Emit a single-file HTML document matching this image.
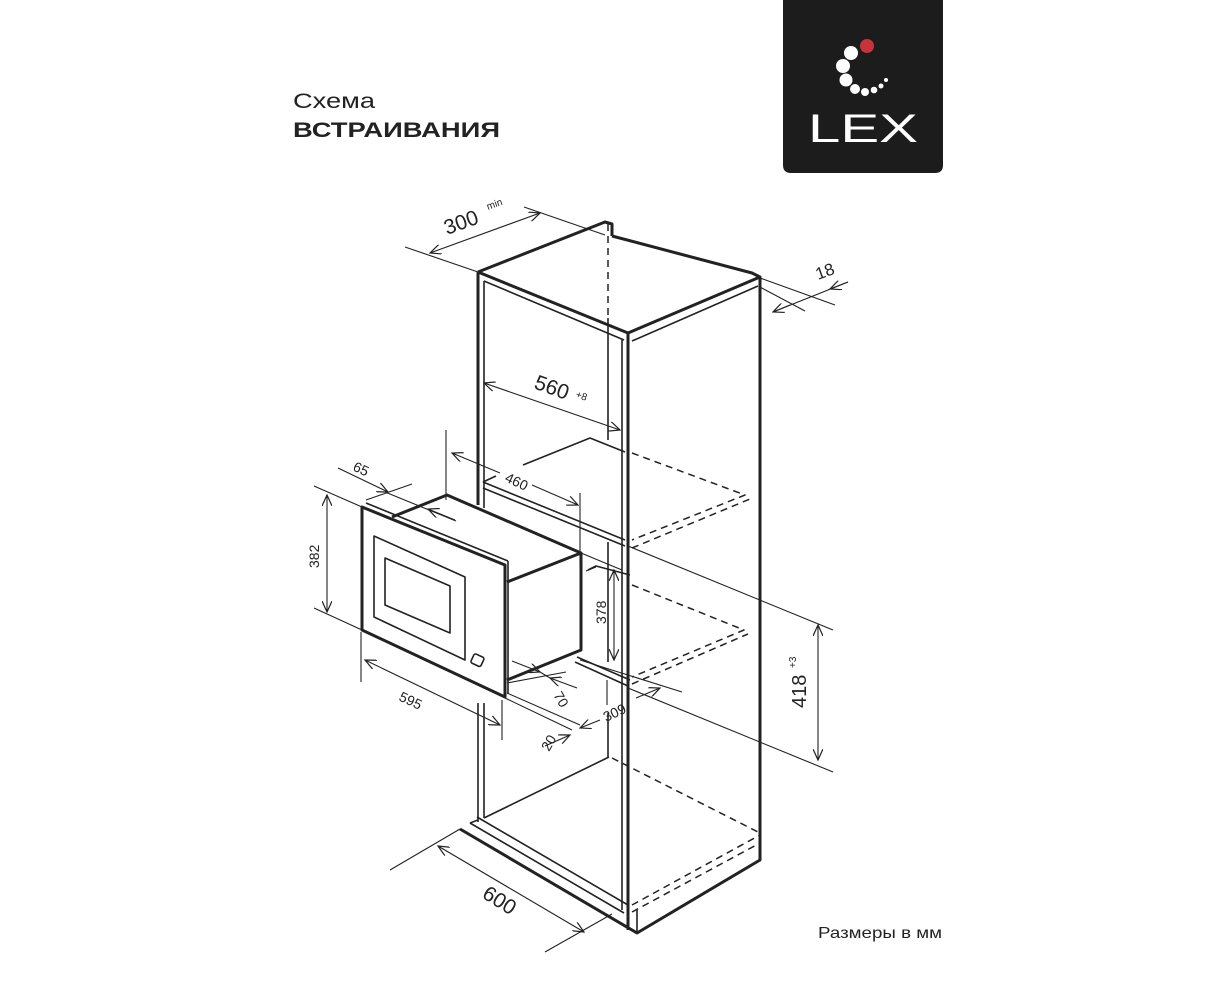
<!DOCTYPE html>
<html><head><meta charset="utf-8"><style>
html,body{margin:0;padding:0;background:#fff;}
svg{display:block}
text{font-family:"Liberation Sans",sans-serif;fill:#222}
</style></head><body>
<svg width="1223" height="1000" viewBox="0 0 1223 1000" xmlns="http://www.w3.org/2000/svg">
<defs>
<marker id="a" markerWidth="12" markerHeight="10" refX="11" refY="5" orient="auto-start-reverse" markerUnits="userSpaceOnUse">
<path d="M0,0 L11,5 L0,10" fill="none" stroke="#222" stroke-width="1.2"/></marker>
</defs>
<!-- Logo -->
<path d="M783,0 H943 V165 Q943,173 935,173 H791 Q783,173 783,165 Z" fill="#1c1c1c"/>
<circle cx="867" cy="46" r="7" fill="#c8323a"/>
<circle cx="851" cy="53" r="7" fill="#fff"/>
<circle cx="843" cy="66" r="7" fill="#fff"/>
<circle cx="846" cy="80" r="6.5" fill="#fff"/>
<circle cx="855" cy="89" r="5" fill="#fff"/>
<circle cx="865" cy="92" r="4" fill="#fff"/>
<circle cx="874" cy="90" r="3.3" fill="#fff"/>
<circle cx="881" cy="86" r="2.5" fill="#fff"/>
<circle cx="886" cy="80" r="2" fill="#fff"/>
<text x="808" y="142" font-size="40" textLength="110" lengthAdjust="spacingAndGlyphs" style="fill:#fff">LEX</text>
<!-- Titles -->
<text x="293" y="108" font-size="21" textLength="82" lengthAdjust="spacingAndGlyphs">Схема</text>
<text x="293" y="137" font-size="21" font-weight="bold" textLength="207" lengthAdjust="spacingAndGlyphs">ВСТРАИВАНИЯ</text>
<text x="818" y="938" font-size="16" textLength="124" lengthAdjust="spacingAndGlyphs">Размеры в мм</text>

<g fill="none" stroke="#222" stroke-linejoin="round">
<!-- Cabinet top -->
<g stroke-width="3">
<path d="M478,272 L605,222 L612,224 L612,236"/>
<path d="M612,236 L752,273 L760,277 L760,860 L637,933 L460,829"/>
<path d="M478,272 L628,333 L760,277"/>
<line x1="478" y1="272" x2="478" y2="505"/>
<line x1="628" y1="333" x2="628" y2="930"/>
</g>
<g stroke-width="1.6">
<line x1="484" y1="281" x2="624" y2="340"/>
<line x1="632" y1="341" x2="758" y2="286"/>
<line x1="484" y1="281" x2="484" y2="508"/>
<line x1="622" y1="340" x2="622" y2="910"/>
<line x1="608" y1="318" x2="608" y2="440"/>
<line x1="608" y1="542" x2="608" y2="662"/>
<line x1="608" y1="713" x2="608" y2="757"/>
<line x1="478" y1="703" x2="478" y2="822"/>
<line x1="484" y1="703" x2="484" y2="818"/>
<line x1="637" y1="910" x2="637" y2="933"/>
<line x1="477" y1="817" x2="628" y2="905"/>
<line x1="470" y1="823" x2="624" y2="913"/>
<line x1="470" y1="823" x2="478" y2="820"/>
<path d="M523,465 L590,438 L625,452"/>
<line x1="483" y1="482" x2="625" y2="540"/>
<line x1="483" y1="488" x2="625" y2="546"/>
<line x1="483" y1="482" x2="496" y2="476"/>
<path d="M588,570 L596,566 L630,575"/>
<line x1="577" y1="657" x2="630" y2="680"/>
<line x1="575" y1="662" x2="628" y2="686"/>
<line x1="484" y1="818" x2="609" y2="757"/>
</g>
<g stroke-width="1.5" stroke-dasharray="7,5">
<line x1="608" y1="224" x2="608" y2="318"/>
<path d="M632,453 L745,495 L632,540"/>
<line x1="632" y1="548" x2="750" y2="499"/>
<path d="M632,585 L744,630 L632,677"/>
<line x1="632" y1="684" x2="748" y2="634"/>
<line x1="612" y1="758" x2="758" y2="832"/>
<line x1="632" y1="905" x2="760" y2="835"/>
<line x1="632" y1="912" x2="760" y2="843"/>
</g>

<!-- Microwave -->
<g stroke-width="3">
<path d="M362,507 L505,565 L505,697 L362,630 Z"/>
<path d="M392,517 L447,495 L581,553 L581,650 L507,680"/>
<line x1="507" y1="582" x2="581" y2="553"/>
</g>
<g stroke-width="1.6">
<line x1="366" y1="503" x2="508" y2="561"/>
<line x1="508" y1="561" x2="508" y2="694"/>
<path d="M374,536 L465,577 L465,660 L374,617 Z"/>
<path d="M385,558 L450,586 L450,633 L385,605 Z"/>
<rect x="472" y="655" width="11" height="10" rx="2" transform="rotate(25 477 660)"/>
</g>

<!-- dimension lines -->
<g stroke-width="1.1">
<line x1="405" y1="247" x2="478" y2="272"/>
<line x1="524" y1="207" x2="605" y2="235"/>
<line x1="430" y1="253" x2="540" y2="213" marker-start="url(#a)" marker-end="url(#a)"/>
<line x1="760" y1="278" x2="835" y2="305"/>
<line x1="760" y1="287" x2="805" y2="311"/>
<line x1="773" y1="312" x2="848" y2="282"/>
<line x1="773" y1="312" x2="790" y2="305" marker-start="url(#a)"/>
<line x1="830" y1="289" x2="848" y2="282" marker-start="url(#a)" marker-end="none"/>
<line x1="484" y1="383" x2="620" y2="430" marker-start="url(#a)" marker-end="url(#a)"/>
<line x1="446" y1="430" x2="446" y2="500"/>
<line x1="580" y1="493" x2="580" y2="565"/>
<line x1="452" y1="453" x2="500" y2="473" marker-start="url(#a)"/>
<line x1="532" y1="485" x2="578" y2="505" marker-end="url(#a)"/>
<line x1="338" y1="468" x2="388" y2="492" marker-end="url(#a)"/>
<line x1="366" y1="500" x2="412" y2="484"/>
<line x1="385" y1="492" x2="456" y2="521"/>
<line x1="455" y1="520" x2="428" y2="509" marker-end="url(#a)"/>
<line x1="314" y1="486" x2="362" y2="507"/>
<line x1="314" y1="608" x2="362" y2="630"/>
<line x1="327" y1="495" x2="327" y2="612" marker-start="url(#a)" marker-end="url(#a)"/>
<line x1="361" y1="632" x2="361" y2="682"/>
<line x1="502" y1="700" x2="502" y2="740"/>
<line x1="365" y1="660" x2="500" y2="725" marker-start="url(#a)" marker-end="url(#a)"/>
<line x1="512" y1="661" x2="540" y2="672" marker-end="url(#a)"/>
<line x1="577" y1="688" x2="550" y2="678" marker-end="url(#a)"/>
<line x1="540" y1="672" x2="550" y2="678"/>
<line x1="507" y1="683" x2="566" y2="672"/>
<line x1="505" y1="698" x2="572" y2="730"/>
<line x1="507" y1="693" x2="580" y2="725"/>
<line x1="545" y1="746" x2="570" y2="735" marker-end="url(#a)"/>
<line x1="600" y1="720" x2="580" y2="728" marker-end="url(#a)"/>
<line x1="636" y1="698" x2="660" y2="688" marker-end="url(#a)"/>
<line x1="580" y1="660" x2="682" y2="692"/>
<line x1="581" y1="553" x2="622" y2="570"/>
<line x1="586" y1="571" x2="596" y2="567"/>
<line x1="614" y1="570" x2="614" y2="660" marker-start="url(#a)" marker-end="url(#a)"/>
<line x1="607" y1="680" x2="607" y2="705"/>
<line x1="628" y1="546" x2="833" y2="630"/>
<line x1="628" y1="688" x2="833" y2="772"/>
<line x1="818" y1="625" x2="818" y2="760" marker-start="url(#a)" marker-end="url(#a)"/>
<line x1="390" y1="870" x2="460" y2="829"/>
<line x1="545" y1="952" x2="612" y2="914"/>
<line x1="438" y1="846" x2="584" y2="932" marker-start="url(#a)" marker-end="url(#a)"/>
</g>
</g>

<text font-size="21" transform="translate(447,235) rotate(-20)">300</text>
<text font-size="10" transform="translate(488,210) rotate(-20)">min</text>
<text font-size="17" transform="translate(818,280) rotate(-20)">18</text>
<text font-size="21" transform="translate(533,388) rotate(20)">560</text>
<text font-size="10" transform="translate(575,397) rotate(20)">+8</text>
<text font-size="14" transform="translate(504,481) rotate(25)">460</text>
<text font-size="14" transform="translate(352,470) rotate(25)">65</text>
<text font-size="14" transform="translate(319,568) rotate(-90)">382</text>
<text font-size="14" transform="translate(398,700) rotate(25)">595</text>
<text font-size="14" transform="translate(553,695) rotate(60)">70</text>
<text font-size="14" transform="translate(549,752) rotate(-60)">20</text>
<text font-size="14" transform="translate(606,722) rotate(-25)">309</text>
<text font-size="14" transform="translate(606,624) rotate(-90)">378</text>
<text font-size="20" transform="translate(806,708) rotate(-90)">418</text>
<text font-size="10" transform="translate(796,668) rotate(-90)">+3</text>
<text font-size="21" transform="translate(481,897) rotate(32)">600</text>
</svg>
</body></html>
